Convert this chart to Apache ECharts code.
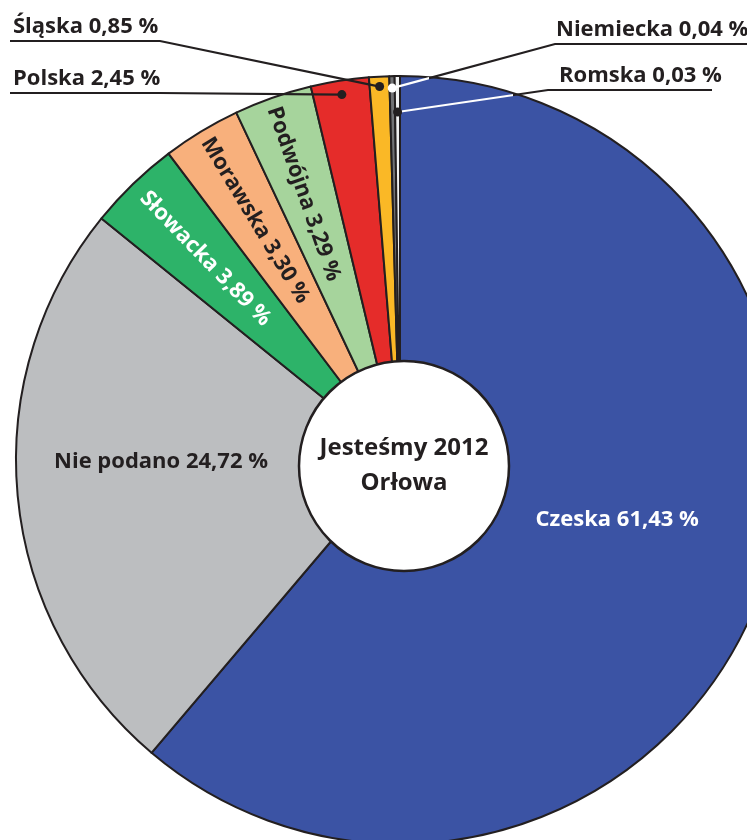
<!DOCTYPE html>
<html>
<head>
<meta charset="utf-8">
<script src="https://cdn.jsdelivr.net/npm/echarts@6/dist/echarts.min.js"></script>
<style>
  html, body { margin: 0; padding: 0; background: #ffffff; }
  #chart { width: 747px; height: 840px; }
</style>
</head>
<body>
<div id="chart"></div>
<script>
// ---------- data ----------
const categories = ['Czeska', 'Nie podano', 'Słowacka', 'Morawska', 'Podwójna', 'Polska', 'Śląska', 'Niemiecka', 'Romska'];
const values = [61.43, 24.72, 3.89, 3.30, 3.29, 2.45, 0.85, 0.04, 0.03];
const centerTitle = ['Jesteśmy 2012', 'Orłowa'];

// ---------- styles ----------
const FONT = '"Open Sans", "Noto Sans", sans-serif';
const DARK = '#231f20';
const sliceColors = ['#3b53a4', '#bcbec0', '#2db369', '#f8b07c', '#a6d49c', '#e52c2a', '#fab826', '#717275', '#f1f2f2'];
const PIE_CENTER = [400, 460];
const PIE_R = 384;

// per-label layout (inside labels: radial distance + nudge; outside: text box & leader line)
const labelCfg = {
  'Czeska':     { kind: 'inside', color: '#ffffff', rotate: 0, r: 225, off: [6, -18] },
  'Nie podano': { kind: 'inside', color: DARK, rotate: 0, r: 240, off: [0, -21] },
  'Słowacka':   { kind: 'inside', color: '#ffffff', rotate: 'radial', r: 280, off: [0, 0] },
  'Morawska':   { kind: 'inside', color: DARK, rotate: 'radial', r: 280, off: [0, 0] },
  'Podwójna':   { kind: 'inside', color: DARK, rotate: 'radial', r: 282, off: [-3, 0] },
  'Polska':     { kind: 'outside', textX: 13, lineY: 93, elbowX: 160, endX: 10, dotR: 370, dot: DARK, split: 0 },
  'Śląska':     { kind: 'outside', textX: 13, lineY: 41, elbowX: 160, endX: 10, dotR: 374, dot: DARK, split: 0 },
  'Niemiecka':  { kind: 'outside', textX: 556, lineY: 44, elbowX: 555, endX: 747, dotR: 372, dot: '#ffffff', split: 0.11 },
  'Romska':     { kind: 'outside', textX: 559, lineY: 90, elbowX: 548, endX: 712, dotR: 348, dot: DARK, split: 0.37 }
};

function fmt(v) { return v.toFixed(2).replace('.', ',') + ' %'; }

const leaders = {};

const pieData = categories.map((name, i) => {
  const c = labelCfg[name];
  const item = {
    name: name,
    value: values[i],
    itemStyle: { color: sliceColors[i] }
  };
  if (c.kind === 'inside') {
    item.label = { position: 'inside', color: c.color, rotate: c.rotate };
  } else {
    item.label = { position: 'outside', color: DARK };
  }
  return item;
});

const chart = echarts.init(document.getElementById('chart'), null, { renderer: 'canvas' });

const option = {
  animation: false,
  backgroundColor: '#ffffff',
  series: [
    {
      type: 'pie',
      center: PIE_CENTER,
      radius: [0, PIE_R],
      startAngle: 90,
      clockwise: true,
      minAngle: 0.8,
      avoidLabelOverlap: false,
      silent: true,
      itemStyle: { borderColor: DARK, borderWidth: 2 },
      label: {
        show: true,
        formatter: p => p.name + ' ' + fmt(p.value),
        fontFamily: FONT,
        fontWeight: 'bold',
        fontSize: 22
      },
      labelLine: { show: false },
      emphasis: { disabled: true },
      data: pieData,
      labelLayout: function (params) {
        const name = categories[params.dataIndex];
        const c = labelCfg[name];
        const C = PIE_CENTER;
        const lr = params.labelRect;
        if (c.kind === 'inside') {
          const lx = lr.x + lr.width / 2, ly = lr.y + lr.height / 2;
          const dx = lx - C[0], dy = ly - C[1];
          const d = Math.sqrt(dx * dx + dy * dy) || 1;
          return { x: C[0] + dx / d * c.r + c.off[0], y: C[1] + dy / d * c.r + c.off[1] };
        }
        // mid-angle direction from the slice's own layout
        const layout = chart.getModel().getSeriesByIndex(params.seriesIndex).getData().getItemLayout(params.dataIndex);
        const mid = (layout.startAngle + layout.endAngle) / 2;
        const dot = [C[0] + Math.cos(mid) * c.dotR, C[1] + Math.sin(mid) * c.dotR];
        leaders[name] = { dot: dot, fill: c.dot, split: c.split,
          points: [dot, [c.elbowX, c.lineY], [c.endX, c.lineY]] };
        return {
          x: c.textX,
          y: c.lineY - 3,
          align: 'left',
          verticalAlign: 'bottom'
        };
      }
    },
    {
      type: 'pie',
      center: [404, 466],
      radius: [0, 105],
      silent: true,
      emphasis: { disabled: true },
      itemStyle: { color: '#ffffff', borderColor: DARK, borderWidth: 2.5 },
      label: {
        show: true,
        position: 'center',
        formatter: centerTitle.join('\n'),
        fontFamily: FONT,
        fontWeight: 'bold',
        fontSize: 24,
        lineHeight: 35,
        color: DARK
      },
      labelLine: { show: false },
      data: [{ name: centerTitle.join(' '), value: 1 }]
    }
  ]
};

chart.setOption(option);

let leadersDrawn = false;
function drawLeaders() {
  if (leadersDrawn || Object.keys(leaders).length === 0) return;
  leadersDrawn = true;
  const els = [];
  Object.keys(leaders).forEach(k => {
    const L = leaders[k];
    const stroke = L.split > 0
      ? new echarts.graphic.LinearGradient(0, 0, 1, 0, [
          { offset: 0, color: '#ffffff' }, { offset: L.split, color: '#ffffff' },
          { offset: L.split, color: DARK }, { offset: 1, color: DARK }])
      : DARK;
    els.push({
      type: 'polyline',
      shape: { points: L.points },
      style: { stroke: stroke, lineWidth: 2.2, fill: null },
      z: 99,
      silent: true
    });
    els.push({
      type: 'circle',
      shape: { cx: L.dot[0], cy: L.dot[1], r: 4.5 },
      style: { fill: L.fill },
      z: 100,
      silent: true
    });
  });
  chart.setOption({ graphic: { elements: els } });
}
chart.on('finished', drawLeaders);
drawLeaders();
</script>
</body>
</html>
